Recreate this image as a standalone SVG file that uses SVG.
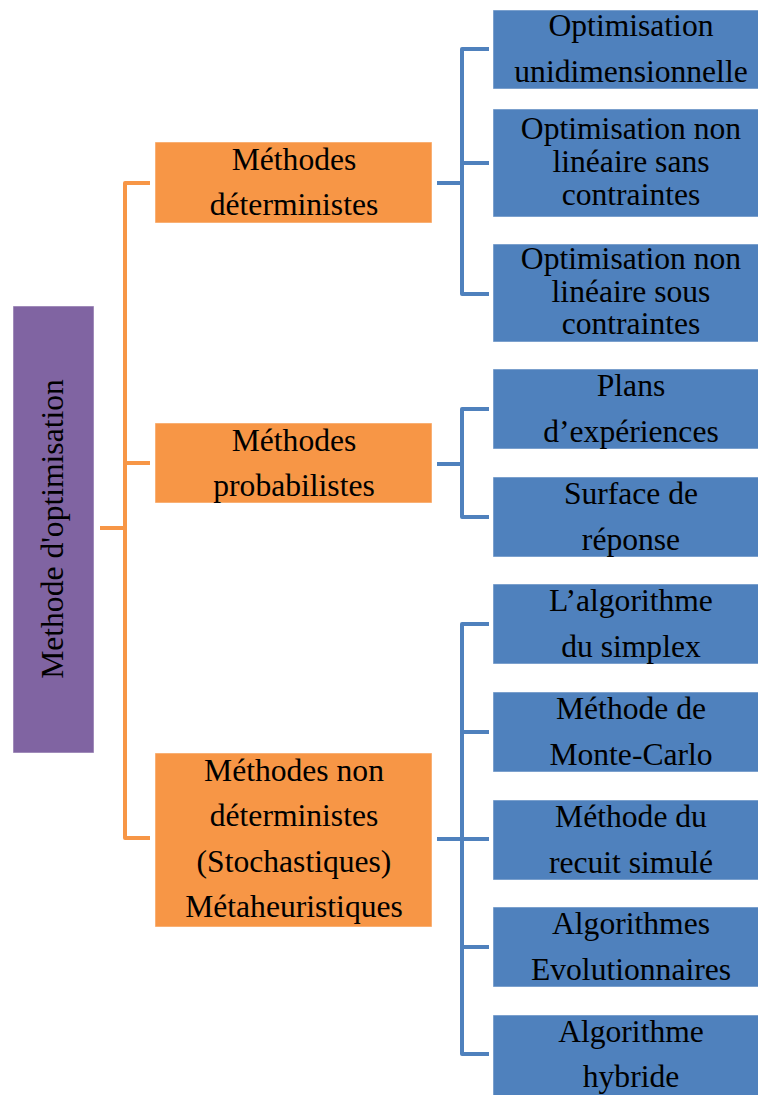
<svg xmlns="http://www.w3.org/2000/svg" width="758" height="1095" viewBox="0 0 758 1095">
<style>
text{font-family:"Liberation Serif","Times New Roman",serif;font-size:31.6px;fill:#000;text-anchor:middle}
.root{fill:#8064A2;stroke:#fff;stroke-opacity:.5;stroke-width:1}
.l1{fill:#F79646;stroke:#fff;stroke-opacity:.5;stroke-width:1}
.l2{fill:#4F81BD;stroke:#fff;stroke-opacity:.5;stroke-width:1}
.co{fill:none;stroke:#F79646;stroke-width:4;stroke-linejoin:round}
.cb{fill:none;stroke:#4F81BD;stroke-width:4;stroke-linejoin:round}
</style>
<g id="connectors">
<path class="co" d="M100,528H125M150,183H125V838H150M125,463H150"/>
<path class="cb" d="M437,183H462M489,49H462V294H489M462,163H489"/>
<path class="cb" d="M437,464H462M489,409H462V517H489"/>
<path class="cb" d="M437,839H489M489,624H462V1054H489M462,732H489M462,947H489"/>
</g>
<g id="root"><rect class="root" x="13" y="306" width="81" height="447"/><text transform="translate(63,529) rotate(-90)">Methode d'optimisation</text></g>
<g id="deterministes"><rect class="l1" x="155" y="142" width="277" height="81"/><text x="294" y="170">Méthodes</text><text x="294" y="215">déterministes</text></g>
<g id="probabilistes"><rect class="l1" x="155" y="423" width="277" height="80"/><text x="294" y="451">Méthodes</text><text x="294" y="496">probabilistes</text></g>
<g id="nondeterministes"><rect class="l1" x="155" y="753" width="277" height="174"/><text x="294" y="781">Méthodes non</text><text x="294" y="826">déterministes</text><text x="294" y="872">(Stochastiques)</text><text x="294" y="917">Métaheuristiques</text></g>
<g id="unidim"><rect class="l2" x="493" y="10" width="277" height="79"/><text x="631" y="36">Optimisation</text><text x="631" y="81.5">unidimensionnelle</text></g>
<g id="sans"><rect class="l2" x="493" y="109" width="277" height="108"/><text x="631" y="139">Optimisation non</text><text x="631" y="172">linéaire sans</text><text x="631" y="204.5">contraintes</text></g>
<g id="sous"><rect class="l2" x="493" y="244" width="277" height="98"/><text x="631" y="268.5">Optimisation non</text><text x="631" y="301.5">linéaire sous</text><text x="631" y="333.5">contraintes</text></g>
<g id="plans"><rect class="l2" x="493" y="369" width="277" height="80"/><text x="631" y="396">Plans</text><text x="631" y="442">d’expériences</text></g>
<g id="surface"><rect class="l2" x="493" y="477" width="277" height="80"/><text x="631" y="503.5">Surface de</text><text x="631" y="549.5">réponse</text></g>
<g id="simplex"><rect class="l2" x="493" y="584" width="277" height="80"/><text x="631" y="611">L’algorithme</text><text x="631" y="657">du simplex</text></g>
<g id="montecarlo"><rect class="l2" x="493" y="692" width="277" height="80"/><text x="631" y="719">Méthode de</text><text x="631" y="765">Monte-Carlo</text></g>
<g id="recuit"><rect class="l2" x="493" y="800" width="277" height="80"/><text x="631" y="827">Méthode du</text><text x="631" y="873">recuit simulé</text></g>
<g id="evolutionnaires"><rect class="l2" x="493" y="907" width="277" height="80"/><text x="631" y="933.5">Algorithmes</text><text x="631" y="979.5">Evolutionnaires</text></g>
<g id="hybride"><rect class="l2" x="493" y="1015" width="277" height="85"/><text x="631" y="1041.5">Algorithme</text><text x="631" y="1087">hybride</text></g>
</svg>
